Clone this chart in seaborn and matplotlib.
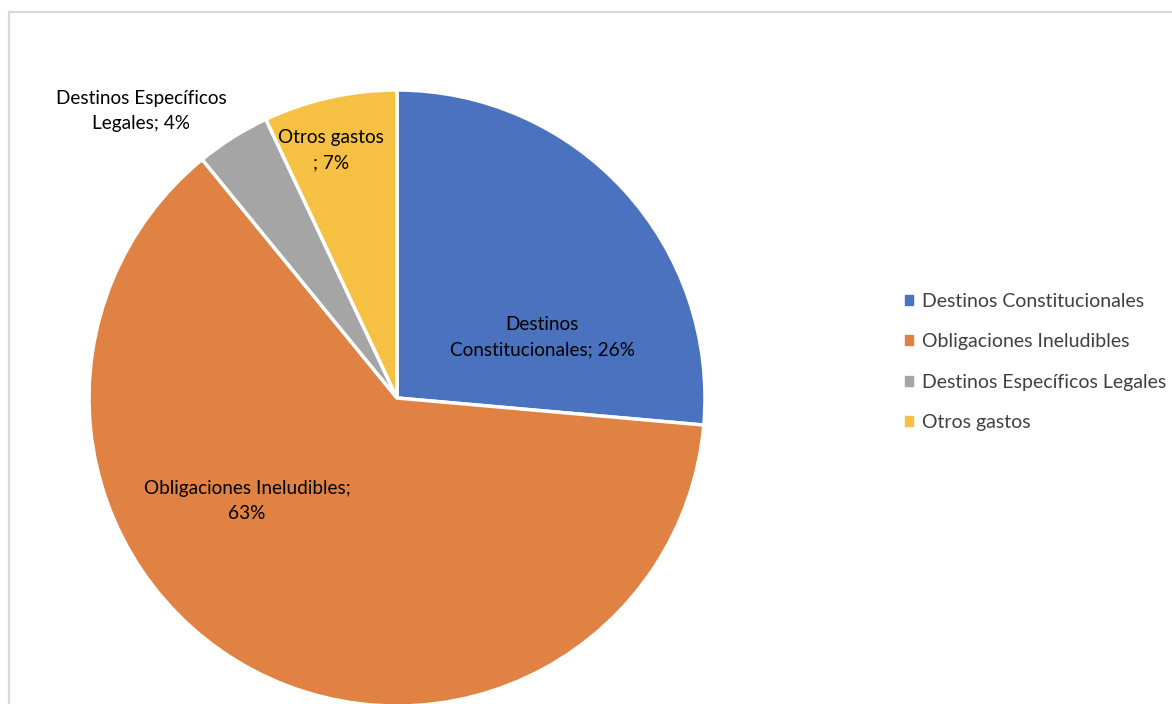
import matplotlib
matplotlib.use("Agg")
import matplotlib.pyplot as plt
import matplotlib.patches as mpatches
import seaborn as sns

# datos
categorias = ["Destinos Constitucionales", "Obligaciones Ineludibles",
              "Destinos Específicos Legales", "Otros gastos"]
valores = [26.4, 62.7, 3.9, 7.0]
etiquetas = ["Destinos\nConstitucionales; 26%", "Obligaciones Ineludibles;\n63%",
             "Destinos Específicos\nLegales; 4%", "Otros gastos\n; 7%"]
colores = ["#4a72bf", "#e08244", "#a5a5a5", "#f6c142"]

sns.set_theme(style="white")
plt.rcParams["font.family"] = ["Lato", "DejaVu Sans"]
paleta = sns.color_palette(colores)

fig = plt.figure(figsize=(11.72, 7.04), dpi=100)
W, H = 1172, 704

# marco gris claro
marco = mpatches.Rectangle((9 / W, -0.05), 1.2, (704 - 12) / H + 0.05,
                           transform=fig.transFigure, fill=False,
                           edgecolor="#d9d9d9", linewidth=1.6, zorder=0)
fig.patches.append(marco)

# pie: centro (397, 398) px, radio 308 px
cx, cy, r = 397, 398, 308
ax = fig.add_axes([(cx - r) / W, (H - cy - r) / H, 2 * r / W, 2 * r / H])
cunas, _ = ax.pie(valores, colors=paleta, startangle=90, counterclock=False,
                  radius=1, wedgeprops=dict(edgecolor="white", linewidth=2.5))
ax.set_xlim(-1, 1)
ax.set_ylim(-1, 1)
ax.axis("off")

# posiciones de las etiquetas (px en la imagen)
pos_etiquetas = [(542, 337), (247, 501), (141, 111), (331, 150)]
for txt, (px, py) in zip(etiquetas, pos_etiquetas):
    ax.text((px - cx) / r, (cy - py) / r, txt, ha="center", va="center",
            fontsize=13.7, color="black", linespacing=1.6, clip_on=False)

handles = [mpatches.Patch(color=c, label=l) for c, l in zip(paleta, categorias)]
fig.legend(handles=handles, loc="center left", bbox_to_anchor=(905 / W, 1 - 362 / H),
           frameon=False, fontsize=14, handlelength=0.4, handleheight=0.4,
           handletextpad=0.45, labelspacing=1.2, labelcolor="#404040",
           borderpad=0, borderaxespad=0)

fig.savefig("out.png", dpi=100)
